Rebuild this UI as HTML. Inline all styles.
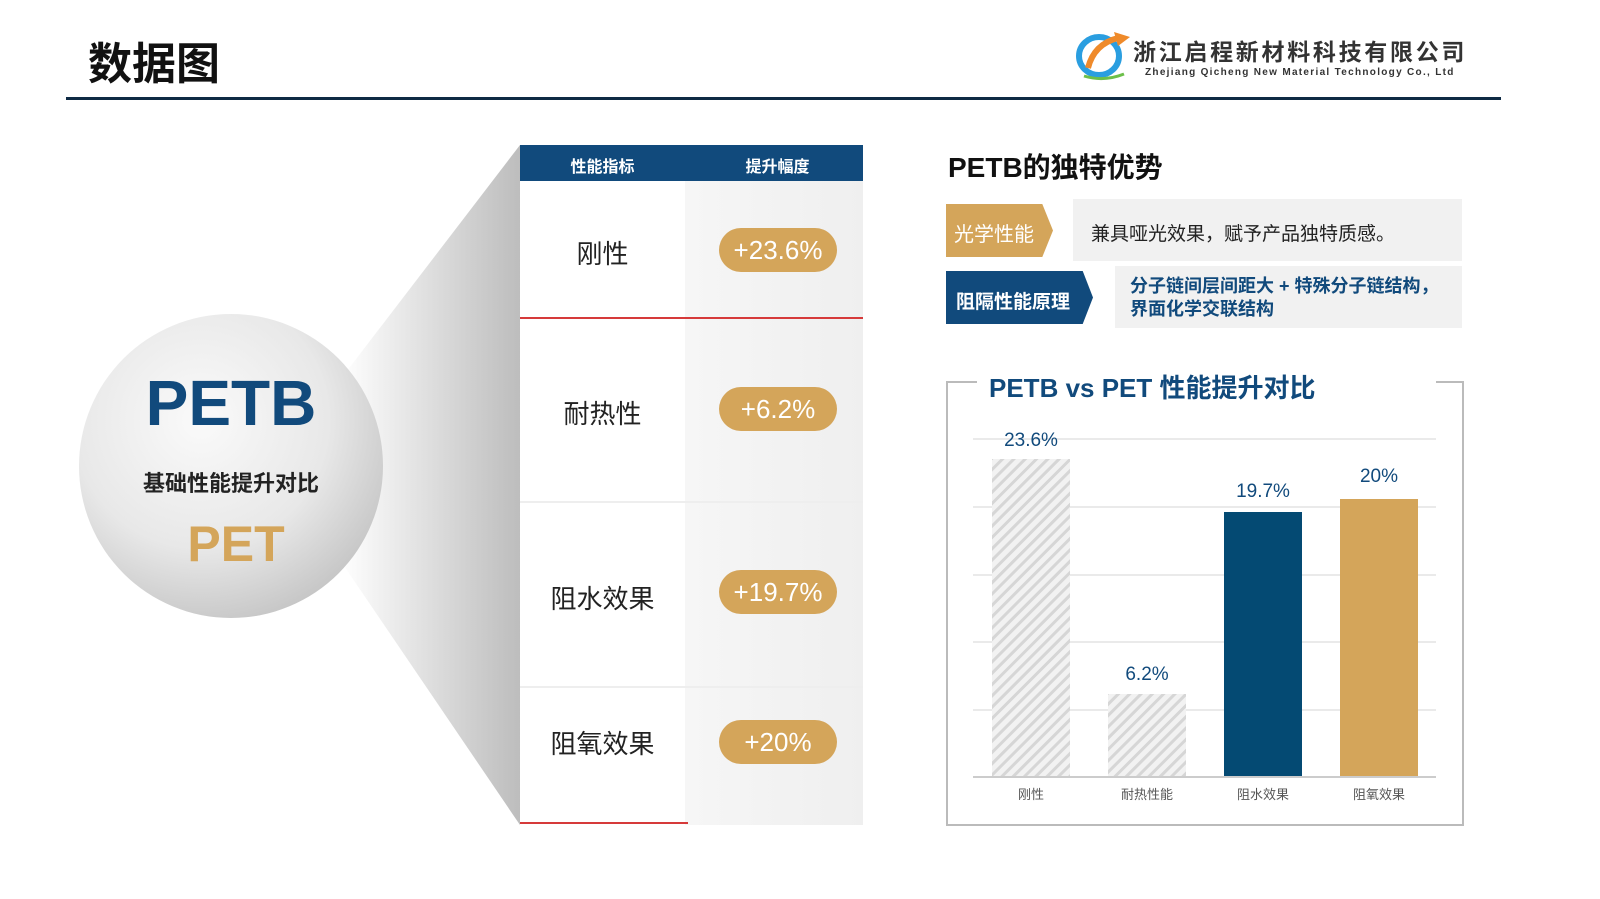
<!DOCTYPE html>
<html><head><meta charset="utf-8"><style>
*{margin:0;padding:0;box-sizing:border-box}
html,body{width:1600px;height:899px;overflow:hidden}
body{background:#fff;position:relative;font-family:"Liberation Sans","Noto Sans CJK SC",sans-serif}
.a{position:absolute}
.pill{position:absolute;left:719px;width:118px;height:44px;border-radius:22px;background:#d4a55a;color:#fff;font-size:26px;text-align:center;line-height:44px}
.rl{position:absolute;left:520px;width:165px;text-align:center;font-size:26px;color:#222}
</style></head><body>
<div class="a" style="left:88px;top:28px;font-size:44px;font-weight:bold;color:#111">数据图</div>
<div class="a" style="left:66px;top:97px;width:1435px;height:3px;background:#0e2a44"></div>
<svg class="a" style="left:1074px;top:30px" width="60" height="52" viewBox="0 0 60 52">
<ellipse cx="25" cy="26" rx="20" ry="19" fill="none" stroke="#2a9ee0" stroke-width="6"/>
<path d="M14 38 Q20 14 44 8" fill="none" stroke="#ef8a2a" stroke-width="6"/>
<polygon points="40,2 56,7 44,16" fill="#ef8a2a"/>
<path d="M10 46 Q30 52 50 44" fill="none" stroke="#6cbf4a" stroke-width="3"/>
</svg>
<div class="a" style="left:1133px;top:41px;font-size:23px;line-height:1;font-weight:bold;color:#333;letter-spacing:2.7px;white-space:nowrap">浙江启程新材料科技有限公司</div>
<div class="a" style="left:1145px;top:68px;font-size:10px;line-height:1;font-weight:bold;color:#333;letter-spacing:1.3px;white-space:nowrap">Zhejiang Qicheng New Material Technology Co., Ltd</div>

<svg class="a" style="left:0;top:0" width="900" height="899">
<defs>
<linearGradient id="f" x1="0" y1="0" x2="1" y2="0"><stop offset="0" stop-color="#fff"/><stop offset="1" stop-color="#bdbdbd"/></linearGradient>
<radialGradient id="c" cx="0.4" cy="0.35" r="0.7"><stop offset="0" stop-color="#fafafa"/><stop offset="0.6" stop-color="#e8e8e8"/><stop offset="1" stop-color="#c4c4c4"/></radialGradient>
</defs>
<polygon points="340,380 520,145 520,825 340,560" fill="url(#f)"/>
<circle cx="231" cy="466" r="152" fill="url(#c)"/>
</svg>
<div class="a" style="left:81px;top:366px;width:300px;text-align:center;font-size:64px;font-weight:bold;color:#114a7c">PETB</div>
<div class="a" style="left:81px;top:466px;width:300px;text-align:center;font-size:22px;font-weight:bold;color:#222">基础性能提升对比</div>
<div class="a" style="left:86px;top:515px;width:300px;text-align:center;font-size:50px;font-weight:bold;color:#d4a55a">PET</div>

<div class="a" style="left:520px;top:145px;width:343px;height:36px;background:#114a7c"></div>
<div class="a" style="left:520px;top:153px;width:165px;text-align:center;color:#fff;font-size:16px;font-weight:bold">性能指标</div>
<div class="a" style="left:692px;top:153px;width:171px;text-align:center;color:#fff;font-size:16px;font-weight:bold">提升幅度</div>
<div class="a" style="left:685px;top:181px;width:178px;height:644px;background:linear-gradient(90deg,#f6f6f6,#efefef)"></div>
<div class="a" style="left:520px;top:317px;width:343px;height:2px;background:#d63a3a"></div>
<div class="a" style="left:520px;top:501px;width:343px;height:2px;background:#eee"></div>
<div class="a" style="left:520px;top:686px;width:343px;height:2px;background:#eee"></div>
<div class="a" style="left:520px;top:822px;width:168px;height:2px;background:#d63a3a"></div>
<div class="rl" style="top:234px">刚性</div>
<div class="rl" style="top:394px">耐热性</div>
<div class="rl" style="top:579px">阻水效果</div>
<div class="rl" style="top:724px">阻氧效果</div>
<div class="pill" style="top:228px">+23.6%</div>
<div class="pill" style="top:387px">+6.2%</div>
<div class="pill" style="top:570px">+19.7%</div>
<div class="pill" style="top:720px">+20%</div>

<div class="a" style="left:948px;top:146px;font-size:28px;font-weight:bold;color:#111">PETB的独特优势</div>
<div class="a" style="left:1073px;top:199px;width:389px;height:62px;background:#f1f1f1"></div>
<div class="a" style="left:946px;top:204px;width:107px;height:53px;background:#d4a55a;clip-path:polygon(0 0,90% 0,100% 50%,90% 100%,0 100%)"></div>
<div class="a" style="left:954px;top:218px;font-size:20px;color:#fff">光学性能</div>
<div class="a" style="left:1091px;top:219px;font-size:19px;color:#222">兼具哑光效果，赋予产品独特质感。</div>
<div class="a" style="left:1115px;top:266px;width:347px;height:62px;background:#f1f1f1"></div>
<div class="a" style="left:946px;top:271px;width:147px;height:53px;background:#114a7c;clip-path:polygon(0 0,93% 0,100% 50%,93% 100%,0 100%)"></div>
<div class="a" style="left:956px;top:287px;font-size:19px;font-weight:bold;color:#fff">阻隔性能原理</div>
<div class="a" style="left:1130px;top:275px;font-size:18px;font-weight:bold;color:#114a7c;line-height:23px">分子链间层间距大 + 特殊分子链结构，<br>界面化学交联结构</div>

<svg class="a" style="left:0;top:0" width="1600" height="899">
<defs><pattern id="h" width="8" height="8" patternUnits="userSpaceOnUse" patternTransform="rotate(45)"><rect width="8" height="8" fill="#f2f2f2"/><rect width="3" height="8" fill="#d6d6d6"/></pattern></defs>
<path d="M977 382 H947 V825 H1463 V382 H1436" fill="none" stroke="#bbb" stroke-width="2"/>
<g stroke="#e3e3e3" stroke-width="1.5">
<line x1="973" y1="439" x2="1436" y2="439"/><line x1="973" y1="507" x2="1436" y2="507"/><line x1="973" y1="575" x2="1436" y2="575"/><line x1="973" y1="642" x2="1436" y2="642"/><line x1="973" y1="710" x2="1436" y2="710"/></g>
<rect x="992" y="459" width="78" height="318" fill="url(#h)"/>
<rect x="1108" y="694" width="78" height="83" fill="url(#h)"/>
<rect x="1224" y="512" width="78" height="265" fill="#044a73"/>
<rect x="1340" y="499" width="78" height="278" fill="#d4a55a"/>
<line x1="973" y1="777" x2="1436" y2="777" stroke="#ccc" stroke-width="2"/>
<g font-family="Liberation Sans" font-size="19" fill="#114a7c" text-anchor="middle">
<text x="1031" y="446">23.6%</text><text x="1147" y="680">6.2%</text><text x="1263" y="497">19.7%</text><text x="1379" y="482">20%</text></g>
<g font-family="Liberation Sans,Noto Sans CJK SC" font-size="13" fill="#555" text-anchor="middle">
<text x="1031" y="799">刚性</text><text x="1147" y="799">耐热性能</text><text x="1263" y="799">阻水效果</text><text x="1379" y="799">阻氧效果</text></g>
</svg>
<div class="a" style="left:989px;top:368px;font-size:26px;font-weight:bold;color:#114a7c">PETB vs PET 性能提升对比</div>
</body></html>
